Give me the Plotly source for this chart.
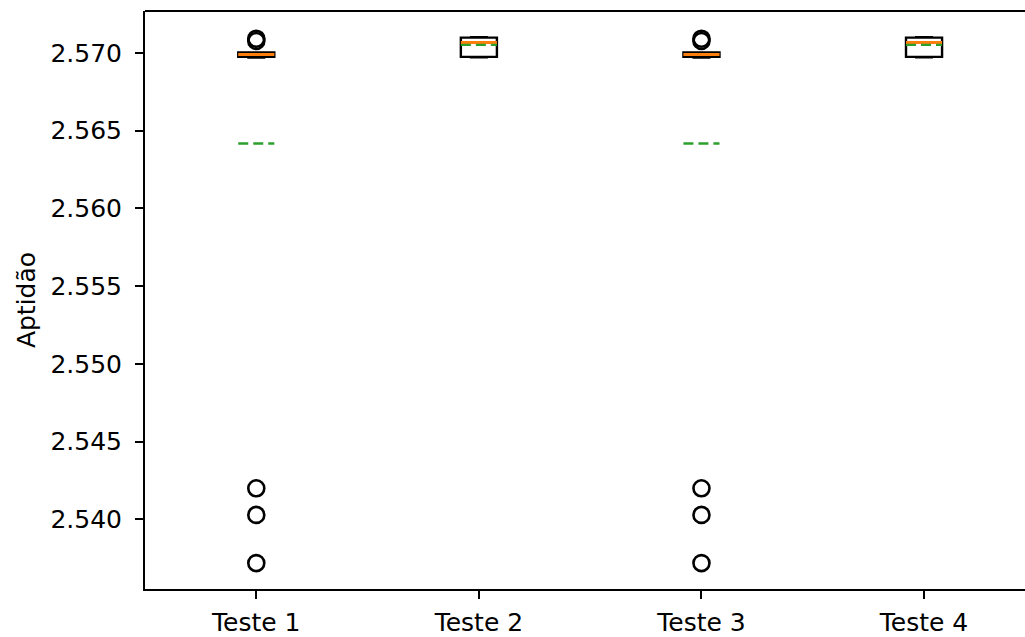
import plotly.graph_objects as go

# ---- data ----
categories = ["Teste 1", "Teste 2", "Teste 3", "Teste 4"]
positions = [1, 2, 3, 4]
q1 = [2.56975, 2.56974, 2.56975, 2.56974]
median = [2.56990, 2.57066, 2.56990, 2.57066]
q3 = [2.57003, 2.57098, 2.57003, 2.57098]
lowerfence = [2.56970, 2.56971, 2.56970, 2.56971]
upperfence = [2.57003, 2.57100, 2.57003, 2.57100]
mean = [2.56417, 2.57051, 2.56417, 2.57051]
outliers = [
    [2.57091, 2.57076, 2.54199, 2.54028, 2.53718],
    [],
    [2.57091, 2.57076, 2.54199, 2.54028, 2.53718],
    [],
]
y_ticks = [2.540, 2.545, 2.550, 2.555, 2.560, 2.565, 2.570]

BOX_W = 0.162
FONT = "DejaVu Sans"
FS = 25

fig = go.Figure()

fig.add_trace(go.Box(
    x=positions, q1=q1, median=median, q3=q3,
    lowerfence=lowerfence, upperfence=upperfence,
    boxpoints=False, width=BOX_W, whiskerwidth=0.5,
    line=dict(color="black", width=2.4),
    fillcolor="rgba(0,0,0,0)", showlegend=False, hoverinfo="skip",
))

def segments(vals):
    xs, ys = [], []
    for p, v in zip(positions, vals):
        xs += [p - BOX_W / 2, p + BOX_W / 2, None]
        ys += [v, v, None]
    return xs, ys

mx, my = segments(median)
fig.add_trace(go.Scatter(x=mx, y=my, mode="lines",
                         line=dict(color="#ff7f0e", width=3),
                         showlegend=False, hoverinfo="skip"))
ax, ay = segments(mean)
fig.add_trace(go.Scatter(x=ax, y=ay, mode="lines",
                         line=dict(color="#2ca02c", width=2.4, dash="10px,5px"),
                         showlegend=False, hoverinfo="skip"))

ox, oy = [], []
for p, vals in zip(positions, outliers):
    for v in vals:
        ox.append(p)
        oy.append(v)
fig.add_trace(go.Scatter(x=ox, y=oy, mode="markers",
                         marker=dict(symbol="circle-open", size=16, color="black",
                                     line=dict(width=2.6, color="black")),
                         showlegend=False, hoverinfo="skip"))

# the plot area is extended 20px past the right edge of the view, as in the reference crop
R_EXTRA = 20
fig.update_layout(
    width=1025 + R_EXTRA, height=637, autosize=False,
    margin=dict(l=145, r=0, t=11, b=46),
    paper_bgcolor="white", plot_bgcolor="white",
    font=dict(family=FONT, size=FS, color="black"),
    shapes=[dict(type="line", xref="paper", yref="paper", x0=0, x1=1, y0=1, y1=1,
                 line=dict(color="black", width=2), layer="above")],
)
fig.update_xaxes(
    range=[0.5, 4.4536 + R_EXTRA / 222.67], tickmode="array", tickvals=positions,
    ticktext=categories,
    showgrid=False, zeroline=False, showline=True, linecolor="black", linewidth=2,
    mirror=False, ticks="outside", ticklen=8, tickwidth=1.8, tickcolor="black",
    ticklabelstandoff=2,
    tickfont=dict(family=FONT, size=FS, color="black"),
)
fig.update_yaxes(
    range=[2.535513, 2.572692], tickmode="array", tickvals=y_ticks,
    ticktext=[f"{t:.3f}" for t in y_ticks],
    showgrid=False, zeroline=False, showline=True, linecolor="black", linewidth=2,
    mirror=False, ticks="outside", ticklen=8, tickwidth=1.8, tickcolor="black",
    ticklabelstandoff=8,
    tickfont=dict(family=FONT, size=FS, color="black"),
    title=dict(text="Aptidão", font=dict(family=FONT, size=FS, color="black"), standoff=8),
)

fig.write_html("out.html", config={"displayModeBar": False},
               include_plotlyjs=True, full_html=True,
               post_script="document.body.style.margin='0';document.body.style.overflow='hidden';")
